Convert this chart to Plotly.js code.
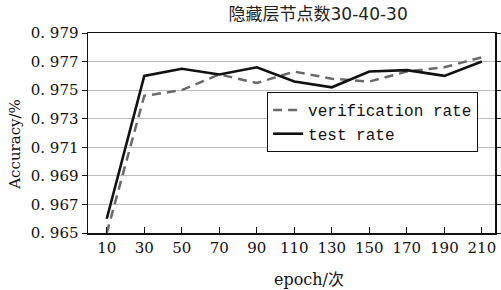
<!DOCTYPE html>
<html>
<head>
<meta charset="utf-8">
<script src="https://cdn.plot.ly/plotly-3.0.1.min.js"></script>
<style>html,body{margin:0;padding:0;background:#fff;}#chart{width:501px;height:290px;}</style>
</head>
<body>
<div id="chart"></div>
<script>
const epochs = [10, 30, 50, 70, 90, 110, 130, 150, 170, 190, 210];
const verificationRate = [0.965, 0.9746, 0.9750, 0.9761, 0.9755, 0.9763, 0.9758, 0.9756, 0.9763, 0.9766, 0.9773];
const testRate = [0.9660, 0.9760, 0.9765, 0.9761, 0.9766, 0.9756, 0.9752, 0.9763, 0.9764, 0.9760, 0.9770];
const xTickVals = [10, 30, 50, 70, 90, 110, 130, 150, 170, 190, 210];
const yTickVals = [0.965, 0.967, 0.969, 0.971, 0.973, 0.975, 0.977, 0.979];
const yTickText = ['0. 965', '0. 967', '0. 969', '0. 971', '0. 973', '0. 975', '0. 977', '0. 979'];

const serif = 'DejaVu Serif, Noto Sans CJK SC, serif';

const traces = [
  {
    x: epochs, y: verificationRate, name: 'verification rate', mode: 'lines',
    line: {color: '#6a6a6a', width: 2.5, dash: '9px,6px'}
  },
  {
    x: epochs, y: testRate, name: 'test rate', mode: 'lines',
    line: {color: '#111111', width: 2.6}
  }
];

const layout = {
  width: 501, height: 290,
  margin: {l: 88, r: 6, t: 33, b: 57},
  paper_bgcolor: '#fff', plot_bgcolor: '#fff',
  title: {
    text: '隐藏层节点数30-40-30',
    font: {family: 'DejaVu Sans, Noto Sans CJK SC, sans-serif', size: 17, color: '#222'},
    xref: 'container', yref: 'container', x: 0.635, xanchor: 'center', y: 0.95, yanchor: 'middle'
  },
  xaxis: {
    range: [0, 217], tickvals: xTickVals, ticks: 'inside', ticklen: 6, tickcolor: '#111',
    showline: true, linecolor: '#111', linewidth: 1.5, mirror: true,
    showgrid: false, zeroline: false,
    tickfont: {family: serif, size: 15, color: '#111'}
  },
  yaxis: {
    range: [0.965, 0.979], tickvals: yTickVals, ticktext: yTickText,
    ticks: 'outside', ticklen: 5, tickcolor: '#111',
    showline: true, linecolor: '#111', linewidth: 1.5, mirror: 'ticks',
    showgrid: true, gridcolor: '#bdbdbd', gridwidth: 1, zeroline: false,
    tickfont: {family: serif, size: 15, color: '#111'}
  },
  showlegend: true,
  legend: {
    x: 0.44, y: 0.705, xanchor: 'left', yanchor: 'top',
    bgcolor: '#fff', bordercolor: '#111', borderwidth: 1,
    font: {family: 'Liberation Mono, DejaVu Sans Mono, monospace', size: 16, color: '#111'},
    tracegroupgap: 0
  },
  annotations: [
    {text: 'epoch/次', xref: 'paper', yref: 'paper', x: 0.543, y: -0.23, xanchor: 'center', yanchor: 'middle',
     showarrow: false, font: {family: serif, size: 16, color: '#111'}},
    {text: 'Accuracy/%', xref: 'paper', yref: 'paper', x: -0.18, xanchor: 'center', y: 0.445, yanchor: 'middle',
     textangle: -90, showarrow: false, font: {family: serif, size: 15, color: '#111'}}
  ]
};

Plotly.newPlot('chart', traces, layout, {displayModeBar: false, staticPlot: true});
</script>
</body>
</html>
